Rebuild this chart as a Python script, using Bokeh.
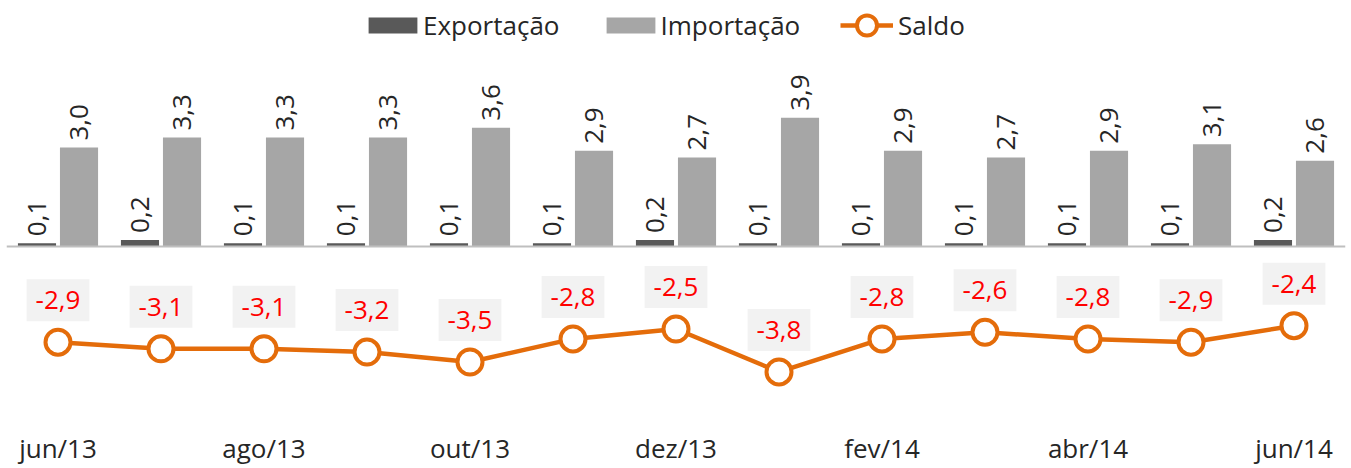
from bokeh.plotting import figure
from bokeh.models import ColumnDataSource, Range1d, FixedTicker, Span, Legend, LegendItem
from bokeh.core.properties import value
from bokeh.embed import file_html
from bokeh.resources import INLINE

months = ["jun/13", "jul/13", "ago/13", "set/13", "out/13", "nov/13", "dez/13",
          "jan/14", "fev/14", "mar/14", "abr/14", "mai/14", "jun/14"]
exportacao = [0.1, 0.2, 0.1, 0.1, 0.1, 0.1, 0.2, 0.1, 0.1, 0.1, 0.1, 0.1, 0.2]
importacao = [3.0, 3.3, 3.3, 3.3, 3.6, 2.9, 2.7, 3.9, 2.9, 2.7, 2.9, 3.1, 2.6]
saldo = [-2.9, -3.1, -3.1, -3.2, -3.5, -2.8, -2.5, -3.8, -2.8, -2.6, -2.8, -2.9, -2.4]
tick_months = [0, 2, 4, 6, 8, 10, 12]

FONT = "Open Sans"
FS = "26px"
ORANGE = "#E46C0A"

def fmt(v):
    return f"{v:.1f}".replace(".", ",")

idx = list(range(len(months)))
src = ColumnDataSource(dict(
    i=idx,
    xe=[k - 0.204 for k in idx],
    xi=[k + 0.204 for k in idx],
    exp=exportacao, imp=importacao, sal=saldo,
    le=[fmt(v) for v in exportacao],
    li=[fmt(v) for v in importacao],
    ls=[fmt(v) for v in saldo],
))

W, H = 1351, 468
FRAME_BOTTOM = 415  # page px (frame top at 0)
ZERO = 246
PX_PER_UNIT = 33.0
p = figure(width=W, height=H, output_backend="svg", toolbar_location=None,
           x_range=Range1d(-0.5, 12.5),
           y_range=Range1d(-(FRAME_BOTTOM - ZERO) / PX_PER_UNIT, ZERO / PX_PER_UNIT),
           min_border_left=6, min_border_right=6, min_border_top=0, min_border_bottom=0)
p.outline_line_color = None
p.grid.visible = False
p.yaxis.visible = False
p.background_fill_color = "white"
p.border_fill_color = "white"

xa = p.xaxis[0]
xa.ticker = FixedTicker(ticks=tick_months)
xa.major_label_overrides = {k: months[k] for k in tick_months}
xa.axis_line_color = None
xa.major_tick_line_color = None
xa.minor_tick_line_color = None
xa.major_tick_out = 0
xa.major_tick_in = 0
xa.major_label_standoff = 14
xa.major_label_text_font = FONT
xa.major_label_text_font_size = FS
xa.major_label_text_color = "#262626"

r_exp = p.vbar(x="xe", top="exp", bottom=0, width=0.37, source=src,
               fill_color="#595959", line_color=None)
r_imp = p.vbar(x="xi", top="imp", bottom=0, width=0.37, source=src,
               fill_color="#A6A6A6", line_color=None)

p.add_layout(Span(location=0, dimension="width", line_color="#BFBFBF", line_width=2))

p.text(x="xe", y="exp", text="le", source=src, angle=1.5708, text_align="left",
       text_baseline="middle", y_offset=-7, text_font=value(FONT),
       text_font_size=FS, text_color="#262626")
p.text(x="xi", y="imp", text="li", source=src, angle=1.5708, text_align="left",
       text_baseline="middle", y_offset=-7, text_font=value(FONT),
       text_font_size=FS, text_color="#262626")

r_line = p.line(x="i", y="sal", source=src, line_color=ORANGE, line_width=4.5)
r_pts = p.scatter(x="i", y="sal", source=src, size=25, marker="circle",
                  fill_color="white", line_color=ORANGE, line_width=4)

p.text(x="i", y="sal", text="ls", source=src, text_align="center",
       text_baseline="middle", y_offset=-42, text_font=value(FONT),
       text_font_size=FS, text_color="#FF0000",
       background_fill_color="#F2F2F2", padding=(9, 12))

def style_legend(lg):
    lg.label_text_font = FONT
    lg.label_text_font_size = FS
    lg.label_text_color = "#262626"
    lg.padding = 0
    lg.margin = 0
    lg.border_line_color = None
    lg.background_fill_alpha = 0

legend1 = Legend(items=[
    LegendItem(label="Exportação", renderers=[r_exp]),
    LegendItem(label="Importação", renderers=[r_imp]),
], orientation="horizontal", location=(356, FRAME_BOTTOM - 43))
style_legend(legend1)
legend1.glyph_width = 61
legend1.glyph_height = 20
legend1.label_height = 36
legend1.label_standoff = 0
legend1.spacing = 40
p.add_layout(legend1)

legend2 = Legend(items=[
    LegendItem(label="Saldo", renderers=[r_line, r_pts]),
], orientation="horizontal", location=(834, FRAME_BOTTOM - 50))
style_legend(legend2)
legend2.glyph_width = 53
legend2.glyph_height = 50
legend2.label_height = 36
legend2.label_standoff = 5
p.add_layout(legend2)

open("out.html", "w").write(file_html(p, INLINE))
